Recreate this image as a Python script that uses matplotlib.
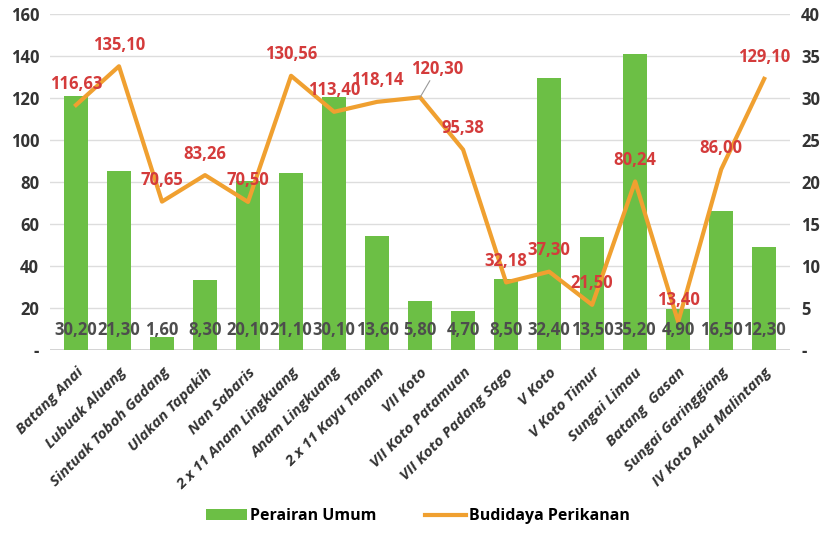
import matplotlib
matplotlib.use("Agg")
import matplotlib.pyplot as plt
import numpy as np
from matplotlib.ticker import FixedLocator, FuncFormatter

categories = ["Batang Anai", "Lubuak Aluang", "Sintuak Toboh Gadang", "Ulakan Tapakih",
              "Nan Sabaris", "2 x 11 Anam Lingkuang", "Anam Lingkuang", "2 x 11 Kayu Tanam",
              "VII Koto", "VII Koto Patamuan", "VII Koto Padang Sago", "V Koto",
              "V Koto Timur", "Sungai Limau", "Batang  Gasan", "Sungai Garinggiang",
              "IV Koto Aua Malintang"]
perairan_umum = [30.20, 21.30, 1.60, 8.30, 20.10, 21.10, 30.10, 13.60, 5.80, 4.70,
                 8.50, 32.40, 13.50, 35.20, 4.90, 16.50, 12.30]
budidaya = [116.63, 135.10, 70.65, 83.26, 70.50, 130.56, 113.40, 118.14, 120.30, 95.38,
            32.18, 37.30, 21.50, 80.24, 13.40, 86.00, 129.10]
left_ticks = [0, 20, 40, 60, 80, 100, 120, 140, 160]
right_ticks = [0, 5, 10, 15, 20, 25, 30, 35, 40]

plt.rcParams['font.family'] = ['Open Sans', 'DejaVu Sans']

fig = plt.figure(figsize=(8.36, 5.36), dpi=100)
ax1 = fig.add_axes([0.06, 0.347, 0.885, 0.627])
ax2 = ax1.twinx()

x = np.arange(len(categories))
green = "#6cbf45"
orange = "#f0a030"
red = "#d43b3b"

# bars on right axis
ax2.bar(x, perairan_umum, width=0.55, color=green, zorder=2, label="Perairan Umum")
ax2.set_ylim(0, 40)
# line on left axis
ax1.set_ylim(0, 160)
ax1.set_xlim(-0.6, len(categories) - 0.4)

ax1.set_zorder(ax2.get_zorder() + 1)
ax1.patch.set_visible(False)
ln, = ax1.plot(x, budidaya, color=orange, lw=3, zorder=3, label="Budidaya Perikanan")

fmt = lambda v: f"{v:.2f}".replace(".", ",")
for xi, v in zip(x, perairan_umum):
    ax1.text(xi, 9.5, fmt(v), ha="center", va="center", fontsize=12,
             fontweight="bold", color="#4d4d4d", zorder=4)
for i, (xi, v) in enumerate(zip(x, budidaya)):
    if categories[i] == "VII Koto":
        ax1.annotate(fmt(v), (xi, v), xytext=(12, 14), textcoords="offset points",
                     ha="center", va="bottom", fontsize=12, fontweight="bold",
                     color=red, zorder=5,
                     arrowprops=dict(arrowstyle="-", color="#999999", lw=0.8,
                                     shrinkA=0, shrinkB=0))
    else:
        ax1.annotate(fmt(v), (xi, v), xytext=(0, 9), textcoords="offset points",
                     ha="center", va="bottom", fontsize=12, fontweight="bold",
                     color=red, zorder=5)

# grid
ax2.yaxis.set_major_locator(FixedLocator(right_ticks))
ax1.yaxis.set_major_locator(FixedLocator(left_ticks))
for t in left_ticks[1:]:
    ax2.axhline(t / 4, color="#dddddd", lw=1, zorder=0)
ax2.axhline(0, color="#cccccc", lw=1.2, zorder=0)

lab = lambda v, p: "-" if v == 0 else f"{int(v)}"
ax1.yaxis.set_major_formatter(FuncFormatter(lab))
ax2.yaxis.set_major_formatter(FuncFormatter(lab))
for a in (ax1, ax2):
    for s in a.spines.values():
        s.set_visible(False)
    a.tick_params(axis="y", length=0, labelsize=12, labelcolor="#333333", pad=8)
    for lbl in a.get_yticklabels():
        lbl.set_fontweight("bold")

ax1.set_xticks(x)
ax1.set_xticklabels(categories, rotation=45, ha="right", rotation_mode="anchor",
                    fontsize=11, fontweight="bold", fontstyle="italic", color="#333333")
ax1.tick_params(axis="x", length=0, pad=11)

handles = [ax2.patches[0], ln]
fig.legend(handles, ["Perairan Umum", "Budidaya Perikanan"], loc="lower center",
           bbox_to_anchor=(0.5, -0.005), ncol=2, frameon=False,
           prop={"weight": "bold", "size": 11.5}, handlelength=2.6, columnspacing=3,
           handletextpad=0.2)

fig.savefig("out.png", dpi=100)
